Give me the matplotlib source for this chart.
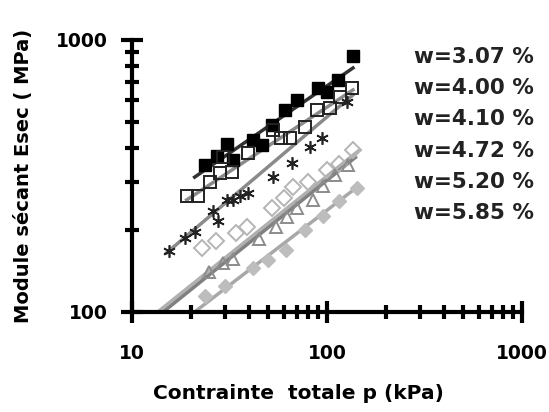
import numpy as np
import matplotlib
matplotlib.use('Agg')
import matplotlib.pyplot as plt
from matplotlib.ticker import LogLocator, NullFormatter, FixedLocator

plt.rcParams['font.family'] = ['DejaVu Sans']
plt.rcParams['font.weight'] = 'bold'

labels = ['w=3.07 %', 'w=4.00 %', 'w=4.10 %', 'w=4.72 %', 'w=5.20 %', 'w=5.85 %']

# w = 3.07 %
p1 = [23.7, 27.2, 30.8, 33.1, 41.9, 46.3, 52, 60.9, 69.9, 90, 99.5, 114, 136]
e1 = [347, 375, 415, 362, 429, 411, 487, 553, 602, 667, 644, 713, 873]
# w = 4.00 %
p2 = [19.1, 21.8, 25.1, 28.3, 29.3, 32.5, 39.3, 52.8, 58.5, 65, 77, 88.6, 103.5, 116, 134]
e2 = [266, 266, 301, 324, 372, 328, 384, 466, 436, 436, 479, 553, 563, 619, 664]
# w = 4.10 %
p3 = [15.6, 18.7, 21, 26, 27.6, 30.6, 33, 35.8, 39.3, 52.8, 65.9, 81.9, 93.9, 126]
e3 = [167, 187, 197, 234, 215, 258, 258, 266, 273, 314, 353, 405, 435, 593]
# w = 4.72 %
p4 = [22.8, 27, 34.4, 39, 52, 60, 66.9, 80, 99.5, 115, 136]
e4 = [172, 182, 195, 205, 240, 262, 289, 300, 333, 350, 394]
# w = 5.20 %
p5 = [25, 29.3, 33, 45, 55.1, 62.1, 70, 84.6, 95, 110, 128]
e5 = [140, 151, 156, 185, 206, 224, 240, 258, 290, 320, 347]
# w = 5.85 %
p6 = [23.7, 30, 41.7, 50, 62, 77.2, 95, 115, 142]
e6 = [114, 125, 145, 155, 169, 200, 225, 255, 286]

# regression lines, end points
fit_p = [[21, 136], [19.1, 136], [15.1, 136], [13.6, 147], [14.5, 140], [21.4, 144]]
fit_e = [[313, 789], [258, 655], [165, 628], [100, 394], [100, 370], [101, 289]]

series = [(p1, e1), (p2, e2), (p3, e3), (p4, e4), (p5, e5), (p6, e6)]
styles = [
    dict(marker='s', mfc='black', mec='black', ms=9),
    dict(marker='s', mfc='none', mec='#222222', ms=9, mew=1.4),
    dict(marker=(6, 2, 0), mfc='none', mec='#222222', ms=9, mew=1.2),
    dict(marker='D', mfc='none', mec='#b5b5b5', ms=8, mew=1.4),
    dict(marker='^', mfc='none', mec='#8c8c8c', ms=9, mew=1.4),
    dict(marker='D', mfc='#bdbdbd', mec='#bdbdbd', ms=7),
]
line_colors = ['#333333', '#8a8a8a', '#8a8a8a', '#b0b0b0', '#808080', '#a8a8a8']

fig = plt.figure(figsize=(5.49, 4.12), dpi=100)
ax = fig.add_axes([0.240, 0.243, 0.711, 0.660])

for (p, e), st, lc, fp, fe in zip(series, styles, line_colors, fit_p, fit_e):
    ax.plot(fp, fe, color=lc, lw=2.5, zorder=1)
    ax.plot(p, e, ls='none', zorder=2, **st)

ax.set_xscale('log')
ax.set_yscale('log')
ax.set_xlim(10, 1000)
ax.set_ylim(100, 1000)

ax.xaxis.set_major_locator(FixedLocator([10, 100, 1000]))
ax.yaxis.set_major_locator(FixedLocator([100, 1000]))
ax.xaxis.set_minor_locator(LogLocator(base=10, subs=np.arange(2, 10)))
ax.yaxis.set_minor_locator(LogLocator(base=10, subs=np.arange(2, 10)))
ax.xaxis.set_minor_formatter(NullFormatter())
ax.yaxis.set_minor_formatter(NullFormatter())
ax.set_xticklabels(['10', '100', '1000'])
ax.set_yticklabels(['100', '1000'])

for s in ['top', 'right']:
    ax.spines[s].set_visible(False)
for s in ['left', 'bottom']:
    ax.spines[s].set_linewidth(3)

ax.tick_params(which='major', direction='inout', length=16, width=3, labelsize=13.5)
ax.tick_params(which='minor', direction='inout', length=10, width=3)
ax.tick_params(axis='x', which='major', pad=15)
ax.tick_params(axis='y', which='major', pad=9)

ax.set_xlabel('Contrainte  totale p (kPa)', fontsize=14.5, fontweight='bold')
ax.set_ylabel('Module sécant Esec ( MPa)', fontsize=14, fontweight='bold')
ax.xaxis.set_label_coords(0.426, -0.267)
ax.yaxis.set_label_coords(-0.254, 0.50)

for i, lab in enumerate(labels):
    fig.text(0.755, 1 - (57 + i * 31.2) / 412, lab, fontsize=15.5, fontweight='bold',
             va='center', ha='left', color='#222222')

fig.savefig('out.png', dpi=100)
